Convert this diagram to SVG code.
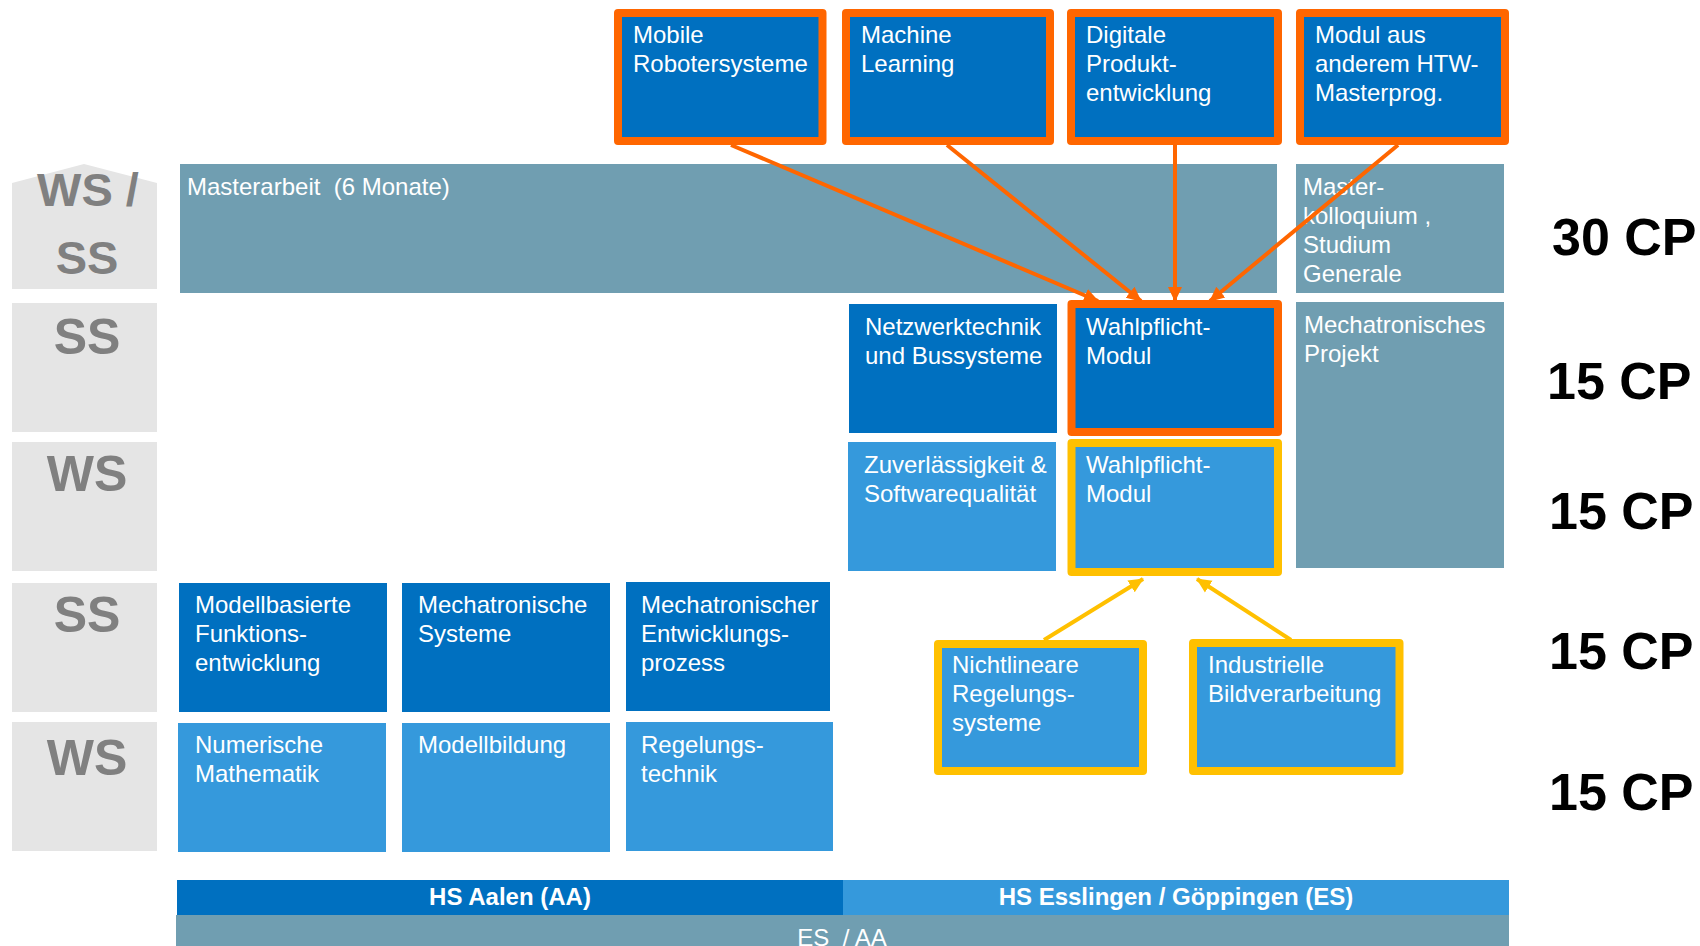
<svg xmlns="http://www.w3.org/2000/svg" width="1700" height="946" viewBox="0 0 1700 946">
  <style>
    text { font-family: "Liberation Sans", Arial, sans-serif; }
    .sem { fill: #E5E5E5; }
    .semt { fill: #808080; font-weight: bold; font-size: 50px; text-anchor: middle; }
    .dark { fill: #0070C0; }
    .light { fill: #3599DC; }
    .teal { fill: #709EB1; }
    .t { fill: #FFFFFF; font-size: 24px; }
    .cp { fill: #000000; font-weight: bold; font-size: 52px; }
    .fo { stroke: #FF6600; stroke-width: 8; stroke-linejoin: round; }
    .fy { stroke: #FFC000; stroke-width: 8; stroke-linejoin: round; }
    .bar { fill: #FFFFFF; font-weight: bold; font-size: 24px; text-anchor: middle; }
    .co { stroke: #FF6600; stroke-width: 4; fill: none; }
    .cy { stroke: #FFC000; stroke-width: 4; fill: none; }
  </style>
  <defs>
    <marker id="ah-o" markerUnits="userSpaceOnUse" markerWidth="16" markerHeight="16" viewBox="0 0 16 16" refX="14" refY="8" orient="auto">
      <path d="M0,1 L15,8 L0,15 z" fill="#FF6600"/>
    </marker>
    <marker id="ah-y" markerUnits="userSpaceOnUse" markerWidth="16" markerHeight="16" viewBox="0 0 16 16" refX="14" refY="8" orient="auto">
      <path d="M0,1 L15,8 L0,15 z" fill="#FFC000"/>
    </marker>
  </defs>

  <rect width="1700" height="946" fill="#FFFFFF"/>

  <!-- semester labels -->
  <g id="sem-wsss">
    <polygon class="sem" points="12,183 84,164 157,183 157,289 12,289"/>
    <text class="semt" x="88" y="206" style="font-size:47px">WS /</text>
    <text class="semt" x="87" y="274" style="font-size:47px">SS</text>
  </g>
  <g id="sem-ss2">
    <rect class="sem" x="12" y="303" width="145" height="129"/>
    <text class="semt" x="87" y="354">SS</text>
  </g>
  <g id="sem-ws3">
    <rect class="sem" x="12" y="442" width="145" height="129"/>
    <text class="semt" x="87" y="491">WS</text>
  </g>
  <g id="sem-ss4">
    <rect class="sem" x="12" y="583" width="145" height="129"/>
    <text class="semt" x="87" y="632">SS</text>
  </g>
  <g id="sem-ws5">
    <rect class="sem" x="12" y="722" width="145" height="129"/>
    <text class="semt" x="87" y="775">WS</text>
  </g>

  <!-- semester 5 -->
  <g id="masterarbeit">
    <rect class="teal" x="180" y="164" width="1097" height="129"/>
    <text class="t" x="187" y="195" xml:space="preserve">Masterarbeit  (6 Monate)</text>
  </g>
  <g id="kolloquium">
    <rect class="teal" x="1296" y="164" width="208" height="129"/>
    <text class="t" x="1303" y="195">Master-</text>
    <text class="t" x="1303" y="224">kolloquium ,</text>
    <text class="t" x="1303" y="253">Studium</text>
    <text class="t" x="1303" y="282">Generale</text>
  </g>

  <!-- semester 4 / 3 (ES) -->
  <g id="netzwerktechnik">
    <rect class="dark" x="849" y="304" width="208" height="129"/>
    <text class="t" x="865" y="335">Netzwerktechnik</text>
    <text class="t" x="865" y="364">und Bussysteme</text>
  </g>
  <g id="wahlpflicht-ss">
    <rect class="dark fo" x="1071.5" y="304" width="206.5" height="128"/>
    <text class="t" x="1086" y="335">Wahlpflicht-</text>
    <text class="t" x="1086" y="364">Modul</text>
  </g>
  <g id="zuverlaessigkeit">
    <rect class="light" x="848" y="442" width="208" height="129"/>
    <text class="t" x="864" y="473">Zuverlässigkeit &amp;</text>
    <text class="t" x="864" y="502">Softwarequalität</text>
  </g>
  <g id="wahlpflicht-ws">
    <rect class="light fy" x="1071.5" y="443" width="206.5" height="129"/>
    <text class="t" x="1086" y="473">Wahlpflicht-</text>
    <text class="t" x="1086" y="502">Modul</text>
  </g>
  <g id="mechatronisches-projekt">
    <rect class="teal" x="1296" y="302" width="208" height="266"/>
    <text class="t" x="1304" y="333">Mechatronisches</text>
    <text class="t" x="1304" y="362">Projekt</text>
  </g>

  <!-- semester 2 / 1 (AA) -->
  <g id="modellbasierte">
    <rect class="dark" x="179" y="583" width="208" height="129"/>
    <text class="t" x="195" y="613">Modellbasierte</text>
    <text class="t" x="195" y="642">Funktions-</text>
    <text class="t" x="195" y="671">entwicklung</text>
  </g>
  <g id="mechatronische-systeme">
    <rect class="dark" x="402" y="583" width="208" height="129"/>
    <text class="t" x="418" y="613">Mechatronische</text>
    <text class="t" x="418" y="642">Systeme</text>
  </g>
  <g id="entwicklungsprozess">
    <rect class="dark" x="626" y="582" width="204" height="129"/>
    <text class="t" x="641" y="613">Mechatronischer</text>
    <text class="t" x="641" y="642">Entwicklungs-</text>
    <text class="t" x="641" y="671">prozess</text>
  </g>
  <g id="numerische-mathematik">
    <rect class="light" x="178" y="723" width="208" height="129"/>
    <text class="t" x="195" y="753">Numerische</text>
    <text class="t" x="195" y="782">Mathematik</text>
  </g>
  <g id="modellbildung">
    <rect class="light" x="402" y="723" width="208" height="129"/>
    <text class="t" x="418" y="753">Modellbildung</text>
  </g>
  <g id="regelungstechnik">
    <rect class="light" x="626" y="722" width="207" height="129"/>
    <text class="t" x="641" y="753">Regelungs-</text>
    <text class="t" x="641" y="782">technik</text>
  </g>

  <!-- elective options -->
  <g id="mobile-robotersysteme">
    <rect class="dark fo" x="618" y="13" width="204.5" height="128"/>
    <text class="t" x="633" y="43">Mobile</text>
    <text class="t" x="633" y="72">Robotersysteme</text>
  </g>
  <g id="machine-learning">
    <rect class="dark fo" x="846" y="13" width="204" height="128"/>
    <text class="t" x="861" y="43">Machine</text>
    <text class="t" x="861" y="72">Learning</text>
  </g>
  <g id="digitale-produktentwicklung">
    <rect class="dark fo" x="1071" y="13" width="207" height="128"/>
    <text class="t" x="1086" y="43">Digitale</text>
    <text class="t" x="1086" y="72">Produkt-</text>
    <text class="t" x="1086" y="101">entwicklung</text>
  </g>
  <g id="modul-htw">
    <rect class="dark fo" x="1300" y="13" width="205" height="128"/>
    <text class="t" x="1315" y="43">Modul aus</text>
    <text class="t" x="1315" y="72">anderem HTW-</text>
    <text class="t" x="1315" y="101">Masterprog.</text>
  </g>
  <g id="nichtlineare-regelungssysteme">
    <rect class="light fy" x="938" y="644" width="205" height="127"/>
    <text class="t" x="952" y="673">Nichtlineare</text>
    <text class="t" x="952" y="702">Regelungs-</text>
    <text class="t" x="952" y="731">systeme</text>
  </g>
  <g id="industrielle-bildverarbeitung">
    <rect class="light fy" x="1193" y="643" width="206.5" height="128"/>
    <text class="t" x="1208" y="673">Industrielle</text>
    <text class="t" x="1208" y="702">Bildverarbeitung</text>
  </g>

  <!-- credit points -->
  <g id="credits">
    <text class="cp" x="1552" y="255">30 CP</text>
    <text class="cp" x="1547" y="399">15 CP</text>
    <text class="cp" x="1549" y="529">15 CP</text>
    <text class="cp" x="1549" y="669">15 CP</text>
    <text class="cp" x="1549" y="810">15 CP</text>
  </g>

  <!-- university bars -->
  <g id="hs-aalen">
    <rect class="dark" x="177" y="880" width="666" height="35"/>
    <text class="bar" x="510" y="905">HS Aalen (AA)</text>
  </g>
  <g id="hs-esslingen">
    <rect class="light" x="843" y="880" width="666" height="35"/>
    <text class="bar" x="1176" y="905">HS Esslingen / Göppingen (ES)</text>
  </g>
  <g id="es-aa">
    <rect class="teal" x="176" y="915" width="1333" height="31"/>
    <text class="t" x="842" y="946" text-anchor="middle" xml:space="preserve">ES  / AA</text>
  </g>

  <!-- connectors -->
  <g id="connectors">
    <line class="co" x1="731" y1="145" x2="1098" y2="301" marker-end="url(#ah-o)"/>
    <line class="co" x1="947" y1="145" x2="1141" y2="301" marker-end="url(#ah-o)"/>
    <line class="co" x1="1175" y1="145" x2="1175" y2="301" marker-end="url(#ah-o)"/>
    <line class="co" x1="1398" y1="145" x2="1210" y2="301" marker-end="url(#ah-o)"/>
    <line class="cy" x1="1044" y1="640" x2="1143" y2="579" marker-end="url(#ah-y)"/>
    <line class="cy" x1="1291" y1="640" x2="1197" y2="579" marker-end="url(#ah-y)"/>
  </g>
</svg>
